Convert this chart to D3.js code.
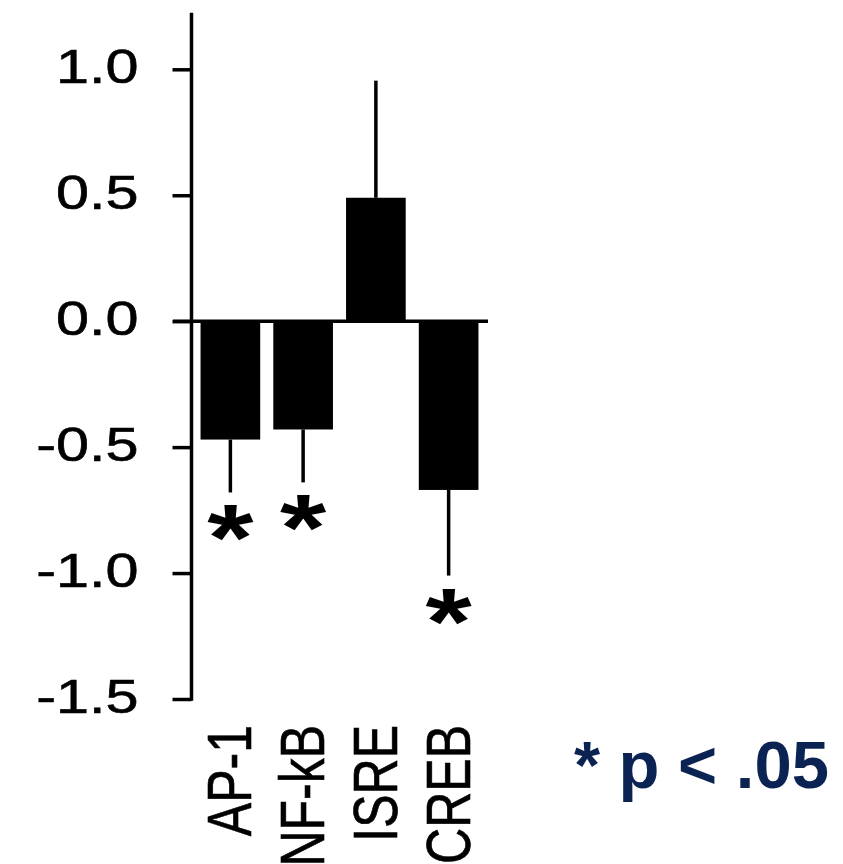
<!DOCTYPE html>
<html>
<head>
<meta charset="utf-8">
<script src="https://cdn.jsdelivr.net/npm/d3@7"></script>
<style>
  body { margin: 0; background: #fff; }
  svg { display: block; }
  text { font-family: "Liberation Sans", Arial, sans-serif; }
</style>
</head>
<body>
<svg id="chart" width="843" height="864"></svg>
<script>
// data
const factors = ['AP-1', 'NF-kB', 'ISRE', 'CREB']
const means = [-0.47, -0.43, 0.49, -0.67]
const errEnds = [-0.68, -0.64, 0.955, -1.01]
const signif = [true, true, false, true]
const yTicks = [1.0, 0.5, 0.0, -0.5, -1.0, -1.5]
const yAxisTop = 1.225
const note = '* p < .05'

// the original picture is stretched sideways, text too
const stretch = 1.25

const svg = d3.select('#chart')

const y = d3.scaleLinear()
  .domain([-1.5, 1])
  .range([699, 69.3])

const x = d3.scaleBand()
  .domain(factors)
  .range([194, 485])
  .paddingInner(0.18)
  .paddingOuter(0.09)

// bars
svg.selectAll('rect.bar')
  .data(factors)
  .join('rect')
  .attr('class', 'bar')
  .attr('x', d => x(d))
  .attr('width', x.bandwidth())
  .attr('y', (d, i) => y(Math.max(0, means[i])))
  .attr('height', (d, i) => Math.abs(y(means[i]) - y(0)))
  .attr('fill', '#000')

// error bars, one side only
svg.selectAll('line.err')
  .data(factors)
  .join('line')
  .attr('class', 'err')
  .attr('x1', d => x(d) + x.bandwidth() / 2)
  .attr('x2', d => x(d) + x.bandwidth() / 2)
  .attr('y1', (d, i) => y(means[i]))
  .attr('y2', (d, i) => y(errEnds[i]))
  .attr('stroke', '#000')
  .attr('stroke-width', 3.5)

// zero line
svg.append('line')
  .attr('x1', 173).attr('x2', 488)
  .attr('y1', y(0)).attr('y2', y(0))
  .attr('stroke', '#000')
  .attr('stroke-width', 3.5)

// y axis
const axisG = svg.append('g')
  .attr('transform', 'translate(191.5,0)')
  .call(d3.axisLeft(y).tickValues(yTicks).tickSize(19).tickSizeOuter(0).tickFormat(d => d.toFixed(1)))

axisG.select('.domain').remove()
axisG.selectAll('.tick line').attr('stroke', '#000').attr('stroke-width', 3.5)
axisG.selectAll('.tick text')
  .attr('x', null).attr('dy', null)
  .attr('font-size', 47.5)
  .attr('fill', '#000')
  .attr('stroke', '#000')
  .attr('stroke-width', 0.6)
  .attr('text-anchor', 'end')
  .attr('transform', `translate(-53,13.5) scale(${stretch},1)`)

svg.append('line')
  .attr('x1', 191.5).attr('x2', 191.5)
  .attr('y1', y(yAxisTop)).attr('y2', y(-1.5) + 1.75)
  .attr('stroke', '#000')
  .attr('stroke-width', 3.5)

// significance stars
svg.selectAll('text.star')
  .data(factors.filter((d, i) => signif[i]))
  .join('text')
  .attr('class', 'star')
  .attr('text-anchor', 'middle')
  .attr('font-size', 95)
  .attr('font-weight', 'bold')
  .attr('transform', d => {
    const i = factors.indexOf(d)
    return `translate(${x(d) + x.bandwidth() / 2},${y(errEnds[i]) + 78}) scale(${stretch},1)`
  })
  .text('*')

// category labels, rotated
svg.selectAll('text.cat')
  .data(factors)
  .join('text')
  .attr('class', 'cat')
  .attr('text-anchor', 'end')
  .attr('font-size', 50)
  .attr('fill', '#000')
  .attr('stroke', '#000')
  .attr('stroke-width', 0.5)
  .attr('transform', d => `translate(${x(d) + x.bandwidth() / 2 + 21},725) scale(${stretch},1) rotate(-90)`)
  .text(d => d)

// note
svg.append('text')
  .attr('x', 829)
  .attr('y', 788)
  .attr('text-anchor', 'end')
  .attr('font-size', 67)
  .attr('font-weight', 'bold')
  .attr('fill', '#0b2353')
  .text(note)
</script>
</body>
</html>
